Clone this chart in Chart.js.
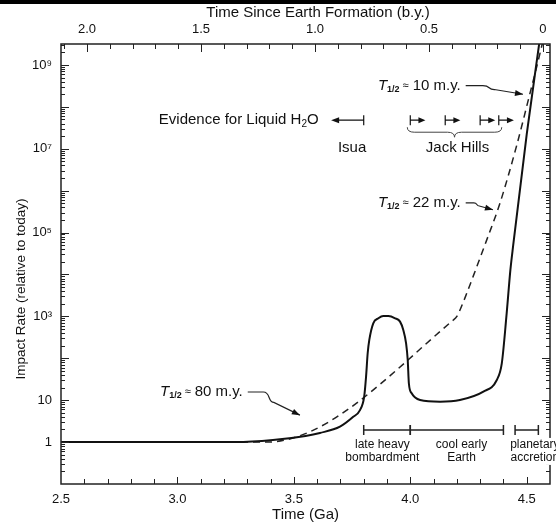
<!DOCTYPE html>
<html>
<head>
<meta charset="utf-8">
<script src="https://cdn.jsdelivr.net/npm/chart.js@4.4.0/dist/chart.umd.min.js"></script>
<style>
  html, body { margin: 0; padding: 0; background: #fff; }
  canvas { display: block; }
</style>
</head>
<body>
<canvas id="graphiqueImpacts" width="556" height="524"></canvas>
<script>
// Courbe pleine : temps (Ga) et taux d'impact relatif à aujourd'hui
const solidTime = [2.5, 3.25, 3.41, 3.55, 3.612, 3.698, 3.755, 3.784, 3.802, 3.81, 3.817, 3.824, 3.841, 3.863, 3.884,
  3.906, 3.935, 3.956, 3.97, 3.982, 3.989, 3.994, 4.006, 4.042, 4.128, 4.213, 4.314, 4.371, 4.393, 4.414, 4.43, 4.442,
  4.5, 4.556];
const solidRate = [1, 1, 1.12, 1.4, 1.65, 2.33, 4.0, 5.8, 12.1, 36, 132, 274, 684, 900, 1020,
  1020, 900, 750, 473, 228, 91, 25, 14.6, 10.1, 9.2, 10.1, 16, 30, 76, 1200, 1.3e4, 5e4,
  2.2e7, 4e9];

// Courbe en tirets
const dashTime = [2.5, 3.38, 4.185, 4.2, 4.213, 4.242, 4.27, 4.328, 4.385, 4.457, 4.514, 4.536, 4.567];
const dashRate = [1, 1, 820, 1000, 1400, 3500, 9000, 6.6e4, 5e5, 1.2e7, 2.1e8, 6.3e8, 3.2e9];

// Graduations
const bottomTicks = [2.5, 3.0, 3.5, 4.0, 4.5];
const topTicks = [0, 0.5, 1.0, 1.5, 2.0];
const yTickValues = [1, 10, 1e3, 1e5, 1e7, 1e9];
const yTickLabels = ['1', '10', '10³', '10⁵', '10⁷', '10⁹'];

// Périodes (bas du graphique)
const periodLabels = [['late heavy', 'bombardment'], ['cool early', 'Earth'], ['planetary', 'accretion']];
const periodStart = [3.8, 4.0, 4.45];
const periodEnd = [4.0, 4.4, 4.55];
const periodLabelAt = [3.88, 4.22, 4.535];
const periodRate = 1.95;

// Indices d'eau liquide
const isuaAge = 3.8;
const isuaSpan = 0.14;
const jackHillsAges = [4.0, 4.15, 4.3, 4.38];
const jackHillsSpan = 0.065;
const evidenceRowRate = 4.8e7;
const evidenceLabelRate = 1.05e7;
const evidenceTextAge = 2.92;

// Demi-vies : [texte, âge du texte, taux du texte, âge de la flèche, taux de la flèche]
const halfLives = [
  ['10 m.y.', 3.861, 3.2e8, 4.484, 2.0e8],
  ['22 m.y.', 3.861, 5.1e5, 4.355, 3.5e5],
  ['80 m.y.', 2.925, 15.7, 3.526, 4.4]
];

const yTitle = 'Impact Rate (relative to today)';
const topTitle = 'Time Since Earth Formation (b.y.)';

const FONT = "'Liberation Sans', Arial, Helvetica, sans-serif";
Chart.defaults.font.family = FONT;
Chart.defaults.color = '#111';

function arrowHead(ctx, fx, fy, tx, ty, len, half) {
  const ang = Math.atan2(ty - fy, tx - fx);
  ctx.beginPath();
  ctx.moveTo(tx, ty);
  ctx.lineTo(tx - len * Math.cos(ang) + half * Math.sin(ang), ty - len * Math.sin(ang) - half * Math.cos(ang));
  ctx.lineTo(tx - len * Math.cos(ang) - half * Math.sin(ang), ty - len * Math.sin(ang) + half * Math.cos(ang));
  ctx.closePath();
  ctx.fill();
}

function curlyArrow(ctx, x0, y0, x1, y1) {
  const dx = x1 - x0, dy = y1 - y0;
  const ex = x0 + 0.5 * dx, ey = y0 + 0.45 * dy;
  ctx.beginPath();
  ctx.moveTo(x0, y0);
  ctx.lineTo(x0 + 0.3 * dx, y0);
  ctx.bezierCurveTo(x0 + 0.44 * dx, y0, x0 + 0.38 * dx, ey, ex, ey);
  ctx.lineTo(x1, y1);
  ctx.stroke();
  arrowHead(ctx, ex, ey, x1, y1, 8, 3);
}

const decorations = {
  id: 'decorations',
  afterDraw(chart) {
    const {ctx, chartArea: a, scales} = chart;
    const X = v => scales.x.getPixelForValue(v);
    const Y = v => scales.y.getPixelForValue(v);
    const XT = v => scales.xTop.getPixelForValue(v);
    ctx.save();

    // bande noire en haut de l'image
    ctx.fillStyle = '#000';
    ctx.fillRect(0, 0, chart.width, 4);

    // graduations tournées vers l'intérieur
    ctx.strokeStyle = '#222';
    ctx.lineWidth = 1;
    ctx.beginPath();
    for (let k = -1; k <= 9; k++) {
      for (let m = 1; m <= 9; m++) {
        const v = m * Math.pow(10, k);
        const y = Math.round(Y(v)) + 0.5;
        if (y <= a.top + 1 || y >= a.bottom - 1) continue;
        const len = m === 1 ? 8 : 4;
        ctx.moveTo(a.left, y); ctx.lineTo(a.left + len, y);
        ctx.moveTo(a.right, y); ctx.lineTo(a.right - len, y);
      }
    }
    for (let i = 25; i <= 46; i++) {
      const x = Math.round(X(i / 10)) + 0.5;
      if (x <= a.left + 1 || x >= a.right - 1) continue;
      const len = i % 5 === 0 ? 7 : 5;
      ctx.moveTo(x, a.bottom); ctx.lineTo(x, a.bottom - len);
    }
    for (let i = 0; i <= 21; i++) {
      const x = Math.round(XT(i / 10)) + 0.5;
      if (x <= a.left + 1 || x >= a.right - 1) continue;
      const len = i % 5 === 0 ? 8 : 5;
      ctx.moveTo(x, a.top); ctx.lineTo(x, a.top + len);
    }
    ctx.stroke();

    // cadre
    ctx.lineWidth = 1.5;
    ctx.strokeRect(a.left, a.top, a.right - a.left, a.bottom - a.top);

    ctx.fillStyle = '#111';
    ctx.strokeStyle = '#111';
    ctx.textBaseline = 'middle';

    // titres des axes gauche et haut
    ctx.font = '15px ' + FONT;
    ctx.textAlign = 'center';
    ctx.fillText(topTitle, 318, 13);
    ctx.save();
    ctx.translate(21, 289);
    ctx.rotate(-Math.PI / 2);
    ctx.font = '13.5px ' + FONT;
    ctx.fillText(yTitle, 0, 0);
    ctx.restore();

    // "Evidence for Liquid H2O"
    const ey = Y(evidenceRowRate);
    ctx.font = '15px ' + FONT;
    ctx.textAlign = 'left';
    let tx = X(evidenceTextAge);
    const t1 = 'Evidence for Liquid H';
    ctx.fillText(t1, tx, ey);
    tx += ctx.measureText(t1).width;
    ctx.font = '10px ' + FONT;
    ctx.fillText('2', tx, ey + 4);
    tx += ctx.measureText('2').width;
    ctx.font = '15px ' + FONT;
    ctx.fillText('O', tx, ey);

    // Isua
    ctx.lineWidth = 1.2;
    const ix = X(isuaAge), ixEnd = X(isuaAge - isuaSpan);
    ctx.beginPath();
    ctx.moveTo(ix, ey - 5); ctx.lineTo(ix, ey + 5);
    ctx.moveTo(ix, ey); ctx.lineTo(ixEnd + 6, ey);
    ctx.stroke();
    arrowHead(ctx, ix, ey, ixEnd, ey, 8, 3);

    // Jack Hills
    jackHillsAges.forEach(age => {
      const x0 = X(age), x1 = X(age + jackHillsSpan);
      ctx.beginPath();
      ctx.moveTo(x0, ey - 5); ctx.lineTo(x0, ey + 5);
      ctx.moveTo(x0, ey); ctx.lineTo(x1 - 5, ey);
      ctx.stroke();
      arrowHead(ctx, x0, ey, x1, ey, 7, 3);
    });

    // accolade
    const bx1 = X(jackHillsAges[0]) - 3;
    const bx2 = X(jackHillsAges[jackHillsAges.length - 1]) + 3;
    const bm = (bx1 + bx2) / 2;
    const by = ey + 7;
    ctx.lineWidth = 1;
    ctx.strokeStyle = '#444';
    ctx.beginPath();
    ctx.moveTo(bx1, by);
    ctx.quadraticCurveTo(bx1, by + 5, bx1 + 7, by + 5);
    ctx.lineTo(bm - 7, by + 5);
    ctx.quadraticCurveTo(bm, by + 5, bm, by + 10);
    ctx.quadraticCurveTo(bm, by + 5, bm + 7, by + 5);
    ctx.lineTo(bx2 - 7, by + 5);
    ctx.quadraticCurveTo(bx2, by + 5, bx2, by);
    ctx.stroke();

    ctx.font = '15px ' + FONT;
    ctx.textAlign = 'center';
    const ly = Y(evidenceLabelRate);
    ctx.fillText('Isua', X(isuaAge - isuaSpan / 2 + 0.02), ly);
    ctx.fillText('Jack Hills', bm + 3, ly);

    // demi-vies
    ctx.textAlign = 'left';
    ctx.strokeStyle = '#222';
    ctx.lineWidth = 1.2;
    halfLives.forEach(([txt, age, rate, tipAge, tipRate]) => {
      let x = X(age);
      const y = Y(rate);
      ctx.font = 'italic 15px ' + FONT;
      ctx.fillText('T', x, y);
      x += ctx.measureText('T').width;
      ctx.font = 'bold 9px ' + FONT;
      ctx.fillText('1/2', x, y + 4);
      x += ctx.measureText('1/2').width + 3;
      ctx.font = '11px ' + FONT;
      ctx.fillText('≈', x, y);
      x += ctx.measureText('≈').width + 4;
      ctx.font = '15px ' + FONT;
      ctx.fillText(txt, x, y);
      x += ctx.measureText(txt).width + 5;
      curlyArrow(ctx, x, y, X(tipAge), Y(tipRate));
    });

    // périodes
    const py = Y(periodRate);
    ctx.lineWidth = 1.5;
    ctx.strokeStyle = '#222';
    periodStart.forEach((s, i) => {
      const x0 = X(s), x1 = X(periodEnd[i]);
      ctx.beginPath();
      ctx.moveTo(x0, py); ctx.lineTo(x1, py);
      ctx.moveTo(x0, py - 5); ctx.lineTo(x0, py + 5);
      ctx.moveTo(x1, py - 5); ctx.lineTo(x1, py + 5);
      ctx.stroke();
    });
    ctx.font = '12px ' + FONT;
    ctx.textAlign = 'center';
    periodLabels.forEach((lines, i) => {
      const cx = X(periodLabelAt[i]);
      lines.forEach((line, j) => {
        const w = ctx.measureText(line).width;
        const y = py + 15 + j * 13;
        if (i === periodLabels.length - 1) {
          ctx.fillStyle = '#fff';
          ctx.fillRect(cx - w / 2 - 1, y - 7, w + 2, 14);
          ctx.fillStyle = '#111';
        }
        ctx.fillText(line, cx, y);
      });
    });

    ctx.restore();
  }
};

const ctx = document.getElementById('graphiqueImpacts').getContext('2d');
const chart = new Chart(ctx, {
  type: 'line',
  data: {
    datasets: [
      {
        label: 'Impact rate',
        data: solidTime.map((t, i) => ({x: t, y: solidRate[i]})),
        borderColor: '#111',
        borderWidth: 2,
        pointRadius: 0,
        cubicInterpolationMode: 'monotone',
        xAxisID: 'x',
        yAxisID: 'y'
      },
      {
        label: 'Exponential decay',
        data: dashTime.map((t, i) => ({x: t, y: dashRate[i]})),
        borderColor: '#222',
        borderWidth: 1.5,
        borderDash: [7, 5],
        pointRadius: 0,
        cubicInterpolationMode: 'monotone',
        xAxisID: 'x',
        yAxisID: 'y'
      }
    ]
  },
  options: {
    responsive: false,
    animation: false,
    devicePixelRatio: 1,
    layout: { padding: { left: 0, right: 6, top: 0, bottom: 0 } },
    plugins: {
      legend: { display: false },
      tooltip: { enabled: false }
    },
    scales: {
      x: {
        type: 'linear',
        position: 'bottom',
        min: 2.5,
        max: 4.6,
        grid: { display: false, drawTicks: false },
        border: { display: false },
        afterBuildTicks: scale => { scale.ticks = bottomTicks.map(v => ({value: v})); },
        afterFit: scale => { scale.height = 40; },
        ticks: {
          padding: 8,
          font: { size: 13 },
          color: '#111',
          callback: v => Number(v).toFixed(1)
        },
        title: {
          display: true,
          text: 'Time (Ga)',
          font: { size: 15 },
          color: '#111',
          padding: { top: 0, bottom: 0 }
        }
      },
      xTop: {
        type: 'linear',
        axis: 'x',
        position: 'top',
        min: -0.031,
        max: 2.114,
        reverse: true,
        grid: { display: false, drawTicks: false },
        border: { display: false },
        afterBuildTicks: scale => { scale.ticks = topTicks.map(v => ({value: v})); },
        afterFit: scale => { scale.height = 44; },
        ticks: {
          padding: 7,
          font: { size: 13 },
          color: '#111',
          callback: v => (v === 0 ? '0' : Number(v).toFixed(1))
        }
      },
      y: {
        type: 'logarithmic',
        position: 'left',
        min: 0.1,
        max: 3.16e9,
        grid: { display: false, drawTicks: false },
        border: { display: false },
        afterBuildTicks: scale => { scale.ticks = yTickValues.map(v => ({value: v})); },
        afterFit: scale => { scale.width = 61; },
        ticks: {
          padding: 9,
          font: { size: 13 },
          color: '#111',
          autoSkip: false,
          callback: v => {
            const i = yTickValues.indexOf(v);
            return i >= 0 ? yTickLabels[i] : '';
          }
        }
      }
    }
  },
  plugins: [decorations]
});
</script>
</body>
</html>
